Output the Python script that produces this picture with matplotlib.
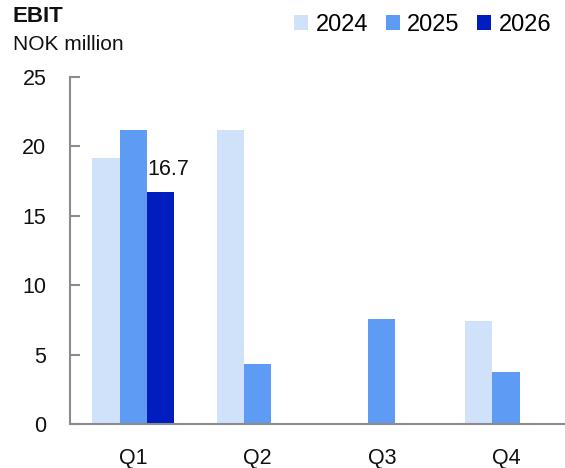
import numpy as np
import matplotlib
matplotlib.use("Agg")
import matplotlib.pyplot as plt

plt.rcParams['font.family'] = ['Liberation Sans', 'DejaVu Sans']

quarters = ["Q1", "Q2", "Q3", "Q4"]
years = ["2024", "2025", "2026"]
ebit_2024 = [19.2, 21.2, np.nan, 7.45]
ebit_2025 = [21.2, 4.3, 7.6, 3.75]
ebit_2026 = [16.7, np.nan, np.nan, np.nan]
colors = ["#D0E1FA", "#5E9BF5", "#001EBF"]

fig = plt.figure(figsize=(5.65, 4.68), dpi=100)
ax = fig.add_axes([70 / 565, 44 / 468, 495 / 565, 347 / 468])

x = np.arange(len(quarters))
width = 0.22
series = [ebit_2024, ebit_2025, ebit_2026]
bars = []
for i, (vals, color, year) in enumerate(zip(series, colors, years)):
    b = ax.bar(x + (i - 1) * width, vals, width, color=color, label=year, linewidth=0)
    bars.append(b)

# value label on the latest quarter
latest = bars[2][0]
ax.annotate(f"{ebit_2026[0]:.1f}", xy=(latest.get_x(), latest.get_height()),
            xytext=(0, 9), textcoords="offset points", ha="left", va="bottom",
            fontsize=15.5, color="#111111")

ax.set_xlim(-0.51, 3.475)
ax.set_ylim(0, 25)
ax.set_yticks([0, 5, 10, 15, 20, 25])
ax.set_xticks(x)
ax.set_xticklabels(quarters)

for side in ["top", "right"]:
    ax.spines[side].set_visible(False)
for side in ["left", "bottom"]:
    ax.spines[side].set_color("#8C8C8C")
    ax.spines[side].set_linewidth(1.5)

ax.tick_params(axis="y", direction="in", length=7, width=1.5, color="#8C8C8C",
               labelsize=15.5, pad=17, labelcolor="#111111")
ax.tick_params(axis="x", length=0, labelsize=15.5, pad=17, labelcolor="#111111")

fig.text(13 / 565, 1 - 17 / 468, "EBIT", fontsize=16, fontweight="bold",
         va="center", ha="left", color="#111111")
fig.text(13 / 565, 1 - 44 / 468, "NOK million", fontsize=15,
         va="center", ha="left", color="#111111")

fig.legend(loc="center right", bbox_to_anchor=(551 / 565, 1 - 25 / 468),
           ncol=3, frameon=False, fontsize=17, handlelength=0.6,
           handleheight=0.6, handletextpad=0.3, columnspacing=0.75,
           borderaxespad=0, borderpad=0)

fig.savefig("out.png", dpi=100)
